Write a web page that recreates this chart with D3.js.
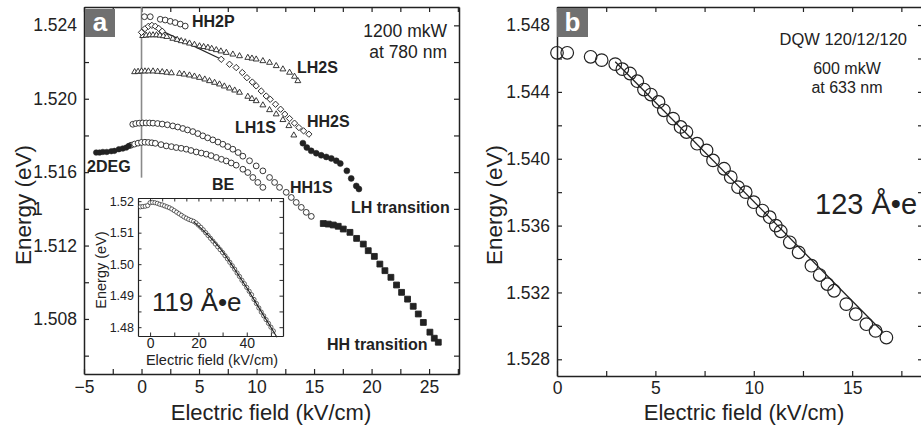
<!DOCTYPE html>
<html><head><meta charset="utf-8">
<script src="https://cdn.jsdelivr.net/npm/d3@7"></script>
<style>
body{margin:0;background:#fff;}
svg{display:block;font-family:"Liberation Sans",Arial,sans-serif;}
text{fill:#222;}
</style></head>
<body><svg id="c" width="921" height="430"></svg>
<script>
// ---------- Panel a data ----------
const hh2pX = [0.26, 0.76, 1.63, 2.06, 2.5, 2.93, 3.37, 3.8];
const hh2pE = [1.52447, 1.52447, 1.52433, 1.52429, 1.52422, 1.52415, 1.52407, 1.52396];

const hh2sX = [0.0, 0.3, 0.6, 0.9, 1.2, 1.5, 1.8, 6.93, 7.65, 8.23, 8.76, 9.16, 9.63, 9.97, 10.41, 10.84, 11.19, 11.65, 12.09, 12.46, 12.87, 13.3, 13.68, 14.09, 14.55];
const hh2sE = [1.52362, 1.52382, 1.52395, 1.524, 1.52395, 1.52383, 1.52368, 1.52215, 1.52188, 1.5217, 1.52143, 1.52115, 1.52091, 1.5207, 1.52042, 1.52015, 1.51997, 1.5197, 1.51943, 1.51916, 1.51892, 1.51867, 1.51843, 1.51825, 1.51807];
const hh2sLinkX = [1.85, 6.93];
const hh2sLinkE = [1.52367, 1.52215];

const lh2sX = [0.1, 0.4, 0.7, 1.0, 1.3, 1.6, 1.9, 2.2, 2.72, 3.1, 3.45, 3.8, 4.17, 4.6, 5.04, 5.4, 5.77, 6.1, 6.5, 6.9, 7.37, 7.94, 8.52, 9.24, 9.6, 9.97, 10.55, 11.13, 11.71, 12.29, 12.87, 13.3, 13.59];
const lh2sE = [1.52343, 1.52345, 1.52347, 1.52347, 1.52347, 1.52345, 1.52342, 1.52338, 1.52328, 1.52322, 1.52315, 1.52309, 1.52302, 1.52295, 1.52287, 1.52283, 1.52279, 1.52273, 1.52266, 1.52259, 1.52251, 1.52242, 1.52233, 1.52224, 1.5222, 1.52215, 1.52206, 1.52197, 1.52179, 1.52161, 1.52143, 1.52121, 1.52097];

const lh1sX = [-0.6, -0.3, 0, 0.3, 0.6, 1.0, 1.4, 1.8, 2.2, 2.6, 3.3, 3.7, 4.17, 4.6, 5.04, 5.5, 5.91, 6.35, 6.78, 7.2, 7.65, 8.1, 8.52, 9.24, 9.6, 9.97, 10.55, 11.13, 11.71, 12.29, 12.81, 13.24];
const lh1sE = [1.52146, 1.52148, 1.5215, 1.5215, 1.5215, 1.5215, 1.52148, 1.52146, 1.52143, 1.5214, 1.52137, 1.52133, 1.52128, 1.52122, 1.52115, 1.52106, 1.52097, 1.52088, 1.52079, 1.52068, 1.52057, 1.52046, 1.52034, 1.52012, 1.52, 1.51988, 1.51965, 1.51939, 1.51916, 1.51885, 1.51852, 1.51801];

const hh1sX = [-0.76, -0.5, -0.2, 0.1, 0.4, 0.7, 1.0, 1.4, 1.8, 2.25, 2.72, 3.15, 3.59, 4.0, 4.46, 4.9, 5.33, 5.75, 6.2, 6.65, 7.07, 7.5, 7.94, 8.4, 8.81, 9.39, 9.97, 10.55, 11.13, 11.57, 12.0, 12.58, 13.02, 13.45, 13.89, 14.32, 14.76];
const hh1sE = [1.51861, 1.51865, 1.51867, 1.51868, 1.51868, 1.51868, 1.51867, 1.51865, 1.51862, 1.51858, 1.51852, 1.51846, 1.51838, 1.5183, 1.51821, 1.5181, 1.51798, 1.51787, 1.51776, 1.51764, 1.51752, 1.51739, 1.51725, 1.51707, 1.51687, 1.51662, 1.51634, 1.51607, 1.51571, 1.51544, 1.51517, 1.5149, 1.51462, 1.51435, 1.51408, 1.51381, 1.51359];

const beX = [-0.9, -0.6, -0.3, 0, 0.3, 0.6, 0.9, 1.2, 1.7, 2.15, 2.6, 3.02, 3.45, 3.89, 4.3, 4.76, 5.2, 5.63, 6.05, 6.5, 6.95, 7.37, 7.8, 8.23, 8.81, 9.24, 9.68, 10.11, 10.55];
const beE = [1.51747, 1.51753, 1.51758, 1.51762, 1.51763, 1.51762, 1.5176, 1.51757, 1.5175, 1.51743, 1.51739, 1.51734, 1.5173, 1.51725, 1.51718, 1.5171, 1.51704, 1.51698, 1.5169, 1.5168, 1.5167, 1.51661, 1.5165, 1.51638, 1.51616, 1.51598, 1.51571, 1.51544, 1.51517];

const deg2X = [-3.94, -3.65, -3.36, -3.02, -2.63, -2.35, -1.97, -1.63, -1.33, -1.1];
const deg2E = [1.51707, 1.51707, 1.5171, 1.5171, 1.51714, 1.51716, 1.51725, 1.51729, 1.51734, 1.51743];

const lhTrX = [14.03, 14.37, 14.75, 15.19, 15.62, 16.06, 16.5, 16.93, 17.28, 17.85, 18.23, 18.67, 18.9];
const lhTrE = [1.51758, 1.51734, 1.51716, 1.51703, 1.51692, 1.51683, 1.51675, 1.51662, 1.51647, 1.51607, 1.51566, 1.51525, 1.51508];

const hhTrX = [15.8, 16.23, 16.67, 17.1, 17.54, 18.12, 18.7, 19.28, 19.71, 20.24, 20.72, 21.16, 21.68, 22.17, 22.61, 23.13, 23.62, 24.06, 24.5, 25.07, 25.45, 25.8];
const hhTrE = [1.5132, 1.51317, 1.51312, 1.51305, 1.5129, 1.51272, 1.51239, 1.51208, 1.51172, 1.51141, 1.51099, 1.51063, 1.51027, 1.50985, 1.50945, 1.50908, 1.50869, 1.50827, 1.50781, 1.50728, 1.50695, 1.50673];

// ---------- Inset data ----------
const insX = [-4, -3, -2, -1, 0, 1, 2, 3, 4, 5, 6, 7, 8, 9, 10, 11, 12, 13, 14, 15, 16, 17, 18, 19, 20, 21, 22, 23, 24, 25, 26, 27, 28, 29, 30, 31, 32, 33, 34, 35, 36, 37, 38, 39, 40, 41, 42, 43, 44, 45, 46, 47, 48, 49, 50, 51];
const insE = [1.5182, 1.5183, 1.5184, 1.5186, 1.5195, 1.5196, 1.5195, 1.5193, 1.519, 1.5188, 1.5185, 1.5182, 1.5179, 1.5175, 1.517, 1.5165, 1.516, 1.5155, 1.515, 1.5146, 1.5142, 1.5139, 1.5136, 1.5131, 1.5124, 1.5117, 1.5109, 1.51, 1.5091, 1.5082, 1.5073, 1.5064, 1.5055, 1.5046, 1.5037, 1.5027, 1.5017, 1.5006, 1.4995, 1.4984, 1.4972, 1.4961, 1.4949, 1.4938, 1.4926, 1.4914, 1.4903, 1.4888, 1.4875, 1.4861, 1.4848, 1.4836, 1.4824, 1.4812, 1.48, 1.4788];
const insFitX = [18, 25, 30, 35, 40, 45, 52.5];
const insFitE = [1.5135, 1.5084, 1.504, 1.4984, 1.4925, 1.4862, 1.4768];

// ---------- Panel b data ----------
const bX = [0, 0.52, 1.71, 2.27, 2.96, 3.32, 3.71, 4.08, 4.42, 4.77, 5.16, 5.43, 5.9, 6.28, 6.58, 7.12, 7.6, 7.93, 8.49, 8.83, 9.2, 9.59, 10.0, 10.44, 10.81, 11.12, 11.37, 11.83, 12.28, 12.93, 13.35, 13.74, 14.08, 14.7, 15.18, 15.72, 16.19, 16.74];
const bE = [1.54634, 1.54634, 1.5461, 1.5459, 1.54566, 1.54536, 1.5451, 1.54464, 1.54414, 1.54384, 1.5434, 1.5429, 1.5424, 1.5419, 1.5416, 1.5409, 1.5405, 1.5399, 1.5394, 1.5389, 1.5383, 1.538, 1.5374, 1.5369, 1.5365, 1.536, 1.53566, 1.535, 1.5344, 1.5336, 1.53304, 1.5325, 1.5321, 1.5313, 1.5307, 1.5301, 1.5297, 1.5293];
const bFitX = [2.96, 16.55];
const bFitE = [1.5458, 1.52965];

// tick values
const aXTicks = d3.range(-5, 27.6, 2.5);
const aYTicks = d3.range(1.506, 1.5251, 0.002);
const bXTicks = d3.range(0, 18.6, 2.5);
const bYTicks = d3.range(1.528, 1.5491, 0.002);
const insXTicksBottom = d3.range(0, 51, 10);
const insXTicksTop = d3.range(-5, 55.1, 5);
const insYTicks = d3.range(1.48, 1.5201, 0.005);

const zip = (xs, ys) => xs.map((x, i) => [x, ys[i]]);
const svg = d3.select("#c");
const INK = "#222";

function frame(g, x, y, o) {
  const ax = g.append("g").attr("transform", `translate(0,${y.range()[0]})`)
    .call(d3.axisBottom(x).tickValues(o.xt).tickSizeInner(-o.ts).tickSizeOuter(0).tickPadding(o.xpad)
      .tickFormat(o.xf));
  const ay = g.append("g").attr("transform", `translate(${x.range()[0]},0)`)
    .call(d3.axisLeft(y).tickValues(o.yt).tickSizeInner(-o.ts).tickSizeOuter(0).tickPadding(o.ypad)
      .tickFormat(o.yf));
  const at = g.append("g").attr("transform", `translate(0,${y.range()[1]})`)
    .call(d3.axisTop(x).tickValues(o.xtTop || o.xt).tickSizeInner(-o.ts).tickSizeOuter(0).tickFormat(""));
  const ar = g.append("g").attr("transform", `translate(${x.range()[1]},0)`)
    .call(d3.axisRight(y).tickValues(o.yt).tickSizeInner(-o.ts).tickSizeOuter(0).tickFormat(""));
  [ax, ay, at, ar].forEach(a => {
    a.select(".domain").attr("stroke", INK).attr("stroke-width", o.sw);
    a.selectAll(".tick line").attr("stroke", INK).attr("stroke-width", o.sw * 0.8);
    a.selectAll("text").attr("fill", INK).style("font-family", '"Liberation Sans",Arial,sans-serif');
  });
  ax.selectAll("text").style("font-size", o.xfs + "px");
  ay.selectAll("text").style("font-size", o.yfs + "px");
}

// ================= PANEL A =================
const xa = d3.scaleLinear().domain([-5, 27.6]).range([84, 459]);
const ya = d3.scaleLinear().domain([1.505, 1.525]).range([374, 7]);
const ga = svg.append("g");
ga.append("rect").attr("x", 84).attr("y", 7).attr("width", 375).attr("height", 367).attr("fill", "#fff");

frame(ga, xa, ya, {
  xt: aXTicks, yt: aYTicks, ts: 5, sw: 1.5, xpad: 7, ypad: 7, xfs: 17.5, yfs: 17.5,
  xf: d => (Math.abs(d % 5) < 1e-6 ? d3.format("d")(d) : ""),
  yf: d => (Math.round(d * 1000) % 4 === 0 ? d3.format(".3f")(d) : "")
});

// vertical grey line at zero field
ga.append("line").attr("x1", xa(0)).attr("x2", xa(0)).attr("y1", ya(1.525)).attr("y2", ya(1.5157))
  .attr("stroke", "#8a8a8a").attr("stroke-width", 1.6);

const line = (x, y) => d3.line().x(d => x(d[0])).y(d => y(d[1]));

function circles(g, x, y, data, r, fill, sw) {
  g.append("g").selectAll("circle").data(data).join("circle")
    .attr("cx", d => x(d[0])).attr("cy", d => y(d[1])).attr("r", r)
    .attr("fill", fill).attr("stroke", INK).attr("stroke-width", sw);
}
function symbols(g, x, y, data, type, size, fill, rot) {
  const s = d3.symbol().type(type).size(size);
  g.append("g").selectAll("path").data(data).join("path")
    .attr("d", s).attr("transform", d => `translate(${x(d[0])},${y(d[1])}) rotate(${rot || 0})`)
    .attr("fill", fill).attr("stroke", INK).attr("stroke-width", 0.9);
}

// series
circles(ga, xa, ya, zip(hh2pX, hh2pE), 2.9, "#fff", 0.9);
ga.append("path").datum(zip(hh2sLinkX, hh2sLinkE)).attr("d", line(xa, ya)).attr("fill", "none").attr("stroke", INK).attr("stroke-width", 1.2);
symbols(ga, xa, ya, zip(lh2sX, lh2sE), d3.symbolTriangle, 15, "#fff");
symbols(ga, xa, ya, zip(hh2sX, hh2sE), d3.symbolSquare, 20, "#fff", 45);
symbols(ga, xa, ya, zip(lh1sX, lh1sE), d3.symbolTriangle, 15, "#fff");
circles(ga, xa, ya, zip(hh1sX, hh1sE), 2.9, "#fff", 0.9);
circles(ga, xa, ya, zip(beX, beE), 2.9, "#fff", 0.9);
circles(ga, xa, ya, zip(deg2X, deg2E), 2.8, INK, 0.5);
circles(ga, xa, ya, zip(lhTrX, lhTrE), 3.0, INK, 0.5);
symbols(ga, xa, ya, zip(hhTrX, hhTrE), d3.symbolSquare, 34, INK, 0);

// panel label
ga.append("rect").attr("x", 85).attr("y", 9).attr("width", 30).attr("height", 28).attr("fill", "#707070");
ga.append("text").attr("x", 100).attr("y", 31).attr("text-anchor", "middle").style("font-size", "26px")
  .style("font-weight", "bold").style("fill", "#fff").text("a");

// annotations
const bold = (t, x, y) => ga.append("text").attr("x", x).attr("y", y).style("font-size", "16px").style("font-weight", "bold").text(t);
bold("HH2P", 192, 27);
bold("LH2S", 297, 73);
bold("HH2S", 307, 127);
bold("LH1S", 235, 133);
bold("2DEG", 87, 172);
bold("BE", 212, 190);
bold("HH1S", 290, 193);
bold("LH transition", 351, 213);
bold("HH transition", 327, 350);
ga.append("text").attr("x", 447).attr("y", 37).attr("text-anchor", "end").style("font-size", "17.5px").text("1200 mkW");
ga.append("text").attr("x", 447).attr("y", 58).attr("text-anchor", "end").style("font-size", "17.5px").text("at 780 nm");
ga.append("text").attr("x", 33).attr("y", ya(1.514) + 6).style("font-size", "17.5px").text("1");

// axis titles
ga.append("text").attr("x", 271).attr("y", 420).attr("text-anchor", "middle").style("font-size", "22px").text("Electric field (kV/cm)");
ga.append("text").attr("transform", "translate(31,205) rotate(-90)").attr("text-anchor", "middle").style("font-size", "22.5px").text("Energy (eV)");

// ================= INSET =================
const xi = d3.scaleLinear().domain([-5, 55]).range([138, 283]);
const yi = d3.scaleLinear().domain([1.4772, 1.521]).range([336, 198]);
const gi = svg.append("g");
gi.append("rect").attr("x", 138).attr("y", 198).attr("width", 145).attr("height", 138).attr("fill", "#fff");
frame(gi, xi, yi, {
  xt: insXTicksBottom, xtTop: insXTicksTop, yt: insYTicks, ts: 3.5, sw: 1.2, xpad: 2, ypad: 4, xfs: 14, yfs: 12.5,
  xf: d => (d % 20 === 0 ? d3.format("d")(d) : ""),
  yf: d => (Math.round(d * 1000) % 10 === 0 ? d3.format(".2f")(d) : "")
});
circles(gi, xi, yi, zip(insX, insE), 2.1, "#fff", 0.7);
gi.append("path").datum(zip(insFitX, insFitE)).attr("d", line(xi, yi).curve(d3.curveMonotoneX))
  .attr("fill", "none").attr("stroke", INK).attr("stroke-width", 1.1);
gi.append("text").attr("x", 212).attr("y", 365).attr("text-anchor", "middle").style("font-size", "14.5px").text("Electric field (kV/cm)");
gi.append("text").attr("transform", "translate(106,270) rotate(-90)").attr("text-anchor", "middle").style("font-size", "14.5px").text("Energy (eV)");
gi.append("text").attr("x", 152).attr("y", 311).style("font-size", "26px").text("119 Å•e");

// ================= PANEL B =================
const xb = d3.scaleLinear().domain([0, 18.6]).range([557, 923]);
const yb = d3.scaleLinear().domain([1.527, 1.54908]).range([376, 7]);
const gb = svg.append("g");
frame(gb, xb, yb, {
  xt: bXTicks, yt: bYTicks, ts: 5, sw: 1.5, xpad: 6, ypad: 7, xfs: 17.5, yfs: 17.5,
  xf: d => (Math.abs(d % 5) < 1e-6 ? d3.format("d")(d) : ""),
  yf: d => (Math.round(d * 1000) % 4 === 0 ? d3.format(".3f")(d) : "")
});
gb.append("path").datum(zip(bFitX, bFitE)).attr("d", line(xb, yb)).attr("fill", "none").attr("stroke", INK).attr("stroke-width", 1.3);
circles(gb, xb, yb, zip(bX, bE), 6.3, "none", 1.2);

gb.append("rect").attr("x", 557).attr("y", 8).attr("width", 31).attr("height", 29).attr("fill", "#707070");
gb.append("text").attr("x", 572.5).attr("y", 31).attr("text-anchor", "middle").style("font-size", "26px")
  .style("font-weight", "bold").style("fill", "#fff").text("b");

gb.append("text").attr("x", 907).attr("y", 45).attr("text-anchor", "end").style("font-size", "16.5px").text("DQW 120/12/120");
gb.append("text").attr("x", 847).attr("y", 74).attr("text-anchor", "middle").style("font-size", "16px").text("600 mkW");
gb.append("text").attr("x", 847).attr("y", 93).attr("text-anchor", "middle").style("font-size", "16px").text("at 633 nm");
gb.append("text").attr("x", 815).attr("y", 214).style("font-size", "29px").text("123 Å•e");

gb.append("text").attr("x", 744).attr("y", 420).attr("text-anchor", "middle").style("font-size", "22px").text("Electric field (kV/cm)");
gb.append("text").attr("transform", "translate(502,205) rotate(-90)").attr("text-anchor", "middle").style("font-size", "22.5px").text("Energy (eV)");
</script></body></html>
